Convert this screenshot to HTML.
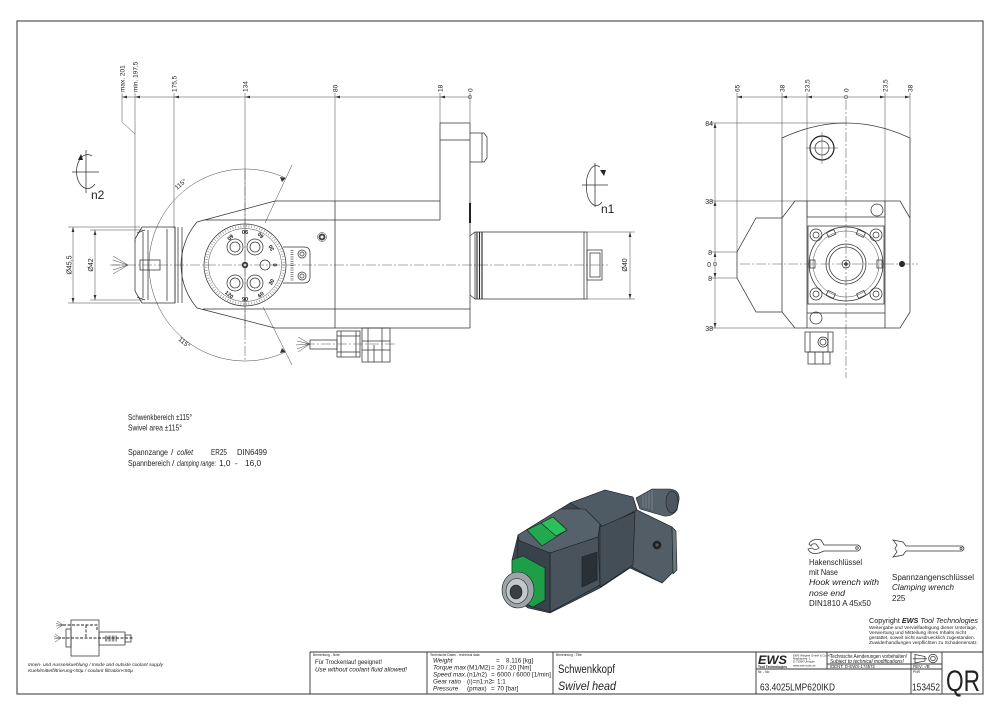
<!DOCTYPE html>
<html><head><meta charset="utf-8"><style>
html,body{margin:0;padding:0;background:#fff;}
svg{display:block;}
.l{stroke:#333;stroke-width:0.75;fill:none;}
.th{stroke:#222;stroke-width:1.3;fill:none;}
.c{stroke:#555;stroke-width:0.55;fill:none;stroke-dasharray:10 2 2 2;}
.d{stroke:#444;stroke-width:0.5;fill:none;}
text{font-family:"Liberation Sans",sans-serif;fill:#222;}
.i{font-style:italic;}
</style></head><body>
<svg width="1000" height="715" viewBox="0 0 1000 715" xmlns="http://www.w3.org/2000/svg">
<rect x="0" y="0" width="1000" height="715" fill="#fff"/>
<rect x="17" y="21" width="966" height="673" fill="none" stroke="#555" stroke-width="1.2"/>

<!-- ================= LEFT VIEW ================= -->
<path class="d" d="M122 97 H470"/>
<g fill="#333">
<polygon points="122,97 127,95.6 127,98.4"/>
<polygon points="135,97 140,95.6 140,98.4"/>
<polygon points="174,97 179,95.6 179,98.4"/>
<polygon points="245,97 250,95.6 250,98.4"/>
<polygon points="335,97 340,95.6 340,98.4"/>
<polygon points="440,97 445,95.6 445,98.4"/>
</g>
<circle cx="470" cy="97" r="1.8" fill="none" stroke="#333" stroke-width="0.5"/>
<path class="d" d="M122 93 V122 L135 134 M135 93 V243 M174 93 V228 M245 93 V330 M335 93 V201 M440 93 V123 M470 93 V123"/>
<g font-size="6.5">
<text transform="translate(124.5,92) rotate(-90)">max. 201</text>
<text transform="translate(137.5,92) rotate(-90)">min. 197,5</text>
<text transform="translate(176.5,92) rotate(-90)">175,5</text>
<text transform="translate(247.5,92) rotate(-90)">134</text>
<text transform="translate(337.5,92) rotate(-90)">80</text>
<text transform="translate(442.5,92) rotate(-90)">18</text>
<text transform="translate(472.5,92) rotate(-90)">0</text>
</g>

<path class="l" d="M440 123 H470 M440 140 H470 M440 123 V220 M470 123 V328"/>
<path class="l" d="M470 133 H484 L487 137 V158 L484 162 H470 M482 133 V162"/>
<path class="l" d="M275 201 H440 M197 222 L275 201 M203 220 H440"/>
<path class="l" d="M197 222 A66 66 0 0 0 197 308"/>
<path class="l" d="M197 308 L275 328 M203 309 H470 M275 328 H470 M335 201 V328"/>
<path stroke="#222" stroke-width="2" d="M470 203 V223"/>

<circle cx="245" cy="265" r="41" class="l"/>
<circle cx="245" cy="265" r="38.8" fill="none" stroke="#555" stroke-width="2.4" stroke-dasharray="0.4 2.3"/>
<circle cx="245" cy="265" r="36.5" class="d"/>
<g class="l">
<circle cx="235" cy="247" r="8"/><circle cx="235" cy="247" r="5"/>
<circle cx="255" cy="247" r="8"/><circle cx="255" cy="247" r="5"/>
<circle cx="235" cy="283" r="8"/><circle cx="235" cy="283" r="5"/>
<circle cx="255" cy="283" r="8"/><circle cx="255" cy="283" r="5"/>
<circle cx="265" cy="265" r="5"/>
</g>
<circle cx="245" cy="265" r="3.2" fill="#333"/>
<circle cx="245" cy="265" r="1.4" fill="#fff"/>
<g font-size="5.5" font-weight="bold" text-anchor="middle">
<text transform="translate(245,230) rotate(180)">90</text>
<text transform="translate(229,236) rotate(135)">60</text>
<text transform="translate(262,234) rotate(-135)">60</text>
<text transform="translate(273,247) rotate(-120)">30</text>
<text transform="translate(277,265) rotate(-90)">0</text>
<text transform="translate(273,283) rotate(-60)">30</text>
<text transform="translate(262,296) rotate(-40)">60</text>
<text transform="translate(245,301)">90</text>
<text transform="translate(228,296) rotate(40)">120</text>
</g>
<path class="l" d="M283 247 H304 Q310 247 310 253 V277 Q310 283 304 283 H283"/>
<path stroke="#333" stroke-width="3" stroke-dasharray="0.6 1.6" d="M292 250 V281"/>
<g class="l"><circle cx="302" cy="254" r="4"/><circle cx="302" cy="254" r="2"/><circle cx="302" cy="276" r="4"/><circle cx="302" cy="276" r="2"/></g>
<circle cx="322" cy="237" r="3.5" fill="#444"/><circle cx="322" cy="237" r="1.5" fill="#fff"/><circle cx="322" cy="237" r="4.5" class="d"/>

<path class="d" d="M149 265 A96 96 0 0 1 285.6 178 M149 265 A96 96 0 0 0 285.6 352"/>
<path class="d" d="M265 223 L292 165 M263 307 L292 365"/>
<polygon points="285.6,178 280,177 282,182" fill="#333"/>
<polygon points="285.6,352 280,353 282,348" fill="#333"/>
<text font-size="6.5" transform="translate(177,190) rotate(-40)">115°</text>
<text font-size="6.5" transform="translate(178,340) rotate(40)">115°</text>

<path class="l" d="M142 227 H175 V303 H142 L135 291 V239 Z"/>
<path class="l" d="M143 232 V298 M148 230 V300 M167 229 V301 M175 227 V303 M178 227 V303 M182 227 V303"/>
<rect x="140" y="260" width="20" height="10" class="l"/>
<path class="l" d="M137 233 L145 230 M137 297 L145 300"/>
<path class="d" d="M128 265 L113 256 M128 265 L113 260 M128 265 L112 265 M128 265 L113 270 M128 265 L113 274"/>
<path class="d" d="M68 227 H140 M68 303 H140 M73 227 V303 M90 230 H143 M90 300 H143 M95 230 V300"/>
<g fill="#333">
<polygon points="73,227 71.6,232 74.4,232"/><polygon points="73,303 71.6,298 74.4,298"/>
<polygon points="95,230 93.6,235 96.4,235"/><polygon points="95,300 93.6,295 96.4,295"/>
</g>
<text font-size="7" text-anchor="middle" transform="translate(71.5,265) rotate(-90)">Ø45,5</text>
<text font-size="7" text-anchor="middle" transform="translate(93,265) rotate(-90)">Ø42</text>

<path class="c" d="M110 265 H608"/>
<path class="c" d="M245 170 V360" />

<rect x="475" y="232" width="112" height="67" class="l"/>
<path class="l" d="M470 236 L475 232 M470 295 L475 299 M584 232 V299"/>
<path stroke="#222" stroke-width="1.1" d="M477 232 V299 M479.5 232 V299 M482 232 V299"/>
<rect x="587" y="250" width="15" height="30" class="l"/>
<rect x="590" y="253" width="10" height="24" class="l"/>
<path class="d" d="M587 232 H635 M587 299 H635 M630 232 V299"/>
<polygon points="630,232 628.6,237 631.4,237" fill="#333"/><polygon points="630,299 628.6,294 631.4,294" fill="#333"/>
<text font-size="7" text-anchor="middle" transform="translate(627,265) rotate(-90)">Ø40</text>

<path class="d" d="M310 344 L298 337 M310 344 L297 341 M310 344 L296 345 M310 344 L297 349 M310 344 L298 352"/>
<rect x="310" y="340" width="27" height="9" class="l"/>
<path class="l" d="M337 331 H360 V357 H337 Z M341 331 V357 M356 331 V357 M337 336 H360 M337 352 H360"/>
<path class="l" d="M362 328 H390 V362 H362 Z M368 328 V362 M382 328 V362 M362 341 H390 M362 350 H390 M374 345 V362"/>
<path class="c" d="M305 344 H395"/>

<path class="l" d="M92 156 A11 17 0 1 0 95 184"/>
<polygon points="78,160 81,154 83,160" fill="#222"/>
<path class="l" d="M72 172 H99 M86 150 V193"/>
<text x="91" y="199" font-size="12">n2</text>
<path class="l" d="M600 167 A10 20 0 1 0 602 202"/>
<polygon points="604,176 600,170 606,170" fill="#222"/>
<path class="l" d="M582 185 H608 M595 163 V207"/>
<text x="601" y="213" font-size="12">n1</text>

<!-- ================= RIGHT VIEW ================= -->
<path class="d" d="M737 97 H910"/>
<g fill="#333">
<polygon points="737,97 742,95.6 742,98.4"/><polygon points="782,97 787,95.6 787,98.4"/>
<polygon points="807,97 812,95.6 812,98.4"/><polygon points="885,97 880,95.6 880,98.4"/>
<polygon points="910,97 905,95.6 905,98.4"/>
</g>
<circle cx="846" cy="97" r="1.8" fill="none" stroke="#333" stroke-width="0.5"/>
<path class="d" d="M737 93 V252 M782 93 V138 M807 93 V217 M885 93 V217 M910 93 V138"/>
<g font-size="6.5">
<text transform="translate(739.5,92) rotate(-90)">65</text>
<text transform="translate(784.5,92) rotate(-90)">38</text>
<text transform="translate(809.5,92) rotate(-90)">23,5</text>
<text transform="translate(848.5,92) rotate(-90)">0</text>
<text transform="translate(887.5,92) rotate(-90)">23,5</text>
<text transform="translate(912.5,92) rotate(-90)">38</text>
</g>
<path class="d" d="M715 123 V328 M711 123 H846 M711 201 H795 M711 252 H737 M711 278 H737 M711 328 H795"/>
<g fill="#333">
<polygon points="715,123 713.6,128 716.4,128"/><polygon points="715,201 713.6,206 716.4,206"/>
<polygon points="715,252 713.6,257 716.4,257"/><polygon points="715,278 713.6,273 716.4,273"/>
<polygon points="715,328 713.6,323 716.4,323"/>
</g>
<circle cx="715" cy="264" r="1.8" fill="none" stroke="#333" stroke-width="0.5"/>
<g font-size="7" text-anchor="end">
<text x="713" y="126">84</text><text x="713" y="204">38</text><text x="712" y="255">8</text>
<text x="711" y="267">0</text><text x="712" y="281">8</text><text x="713" y="331">38</text>
</g>
<path class="l" d="M782 218 V138 Q846 108 910 138 V218"/>
<circle cx="822" cy="148" r="12" fill="none" stroke="#222" stroke-width="1.2"/>
<circle cx="822" cy="148" r="7" class="l"/>
<path class="d" d="M806 148 H838 M822 132 V164"/>
<path class="l" d="M795 201 H900 L910 218 V312 L900 328 H795 L782 312 V218 Z"/>
<path class="l" d="M782 218 H756 L737 252 V278 L756 312 H782"/>
<path class="l" d="M807 201 V328 M885 201 V328 M807 217 H885 M807 313 H885"/>
<rect x="808" y="226" width="76" height="78" class="l"/>
<circle cx="846" cy="264" r="37" class="l"/>
<circle cx="846" cy="264" r="33" class="d"/>
<g class="l">
<rect x="827" y="231" width="8" height="5" transform="rotate(-25 831 233)"/>
<rect x="857" y="231" width="8" height="5" transform="rotate(25 861 233)"/>
<rect x="827" y="292" width="8" height="5" transform="rotate(25 831 294)"/>
<rect x="857" y="292" width="8" height="5" transform="rotate(-25 861 294)"/>
<rect x="810" y="260" width="5" height="8"/>
<rect x="877" y="260" width="5" height="8"/>
</g>
<circle cx="846" cy="264" r="20" class="l"/><circle cx="846" cy="264" r="17" class="l"/>
<circle cx="846" cy="264" r="4" class="l"/><circle cx="846" cy="264" r="1.8" fill="#333"/>
<g class="l">
<circle cx="816" cy="235" r="6"/><circle cx="816" cy="235" r="3"/>
<circle cx="876" cy="235" r="6"/><circle cx="876" cy="235" r="3"/>
<circle cx="816" cy="294" r="6"/><circle cx="816" cy="294" r="3"/>
<circle cx="876" cy="294" r="6"/><circle cx="876" cy="294" r="3"/>
<circle cx="877" cy="210" r="6"/><circle cx="816" cy="318" r="6"/>
</g>
<circle cx="902" cy="264" r="3" fill="#222"/>
<path class="c" d="M846 100 V378 M740 264 H918"/>
<path class="l" d="M805 332 H833 V352 H805 Z M810 332 V352 M828 332 V352"/>
<circle cx="823" cy="342" r="5" class="l"/><circle cx="823" cy="342" r="3" class="l"/>
<path class="l" d="M808 352 H830 V364 H808 Z M815 352 V364 M823 352 V364"/>

<!-- ================= NOTES ================= -->
<text x="128" y="420" font-size="8.3" textLength="64" lengthAdjust="spacingAndGlyphs">Schwenkbereich ±115°</text>
<text x="128" y="430.5" font-size="8.3" textLength="54" lengthAdjust="spacingAndGlyphs">Swivel area ±115°</text>
<text x="128" y="455" font-size="8.3" textLength="40" lengthAdjust="spacingAndGlyphs">Spannzange</text>
<text x="171" y="455" font-size="8.3">/</text>
<text x="177" y="455" font-size="8.3" class="i" textLength="16" lengthAdjust="spacingAndGlyphs">collet</text>
<text x="211" y="455" font-size="8.3" textLength="16" lengthAdjust="spacingAndGlyphs">ER25</text>
<text x="237" y="455" font-size="8.3" textLength="30" lengthAdjust="spacingAndGlyphs">DIN6499</text>
<text x="128" y="466" font-size="8.3" textLength="42" lengthAdjust="spacingAndGlyphs">Spannbereich</text>
<text x="172" y="466" font-size="8.3">/</text>
<text x="177" y="466" font-size="8.3" class="i" textLength="39" lengthAdjust="spacingAndGlyphs">clamping range:</text>
<text x="219" y="466" font-size="8.3">1,0</text>
<text x="235" y="466" font-size="8.3">-</text>
<text x="245" y="466" font-size="8.3">16,0</text>

<!-- ================= 3D VIEW ================= -->
<g stroke="#1a1f22" stroke-width="0.6" stroke-linejoin="round">
<polygon points="518,535 570,503 605,490 633,497 637,510 672,527 673,572 662,583 630,568 600,588 550,613 528,608 512,596 512,560" fill="#3e4850"/>
<path d="M636 498 L652 489 H670 Q680 490 679 500 L677 510 Q672 517 664 516 L640 509 Z" fill="#56626a"/>
<ellipse cx="672" cy="502" rx="6" ry="11" fill="#4b565e"/>
<path d="M643 495 V507 M646 493.5 V508 M649 492 V509 M652 490.5 V510" stroke="#7d878d" stroke-width="0.8"/>
<polygon points="570,503 605,490 633,497 637,510 603,527 590,515" fill="#4f5b64"/>
<polygon points="637,510 672,527 673,572 662,583 632,567 633,512" fill="#525d65"/>
<polygon points="672,527 676,531 677,570 673,574" fill="#6a757c"/>
<circle cx="657" cy="545" r="4" fill="#222"/><circle cx="657" cy="545" r="2" fill="#555"/>
<polygon points="600,527 635,512 633,565 600,587" fill="#444e56"/>
<polygon points="518,535 560,509 585,509 600,524 598,537 550,553 520,545" fill="#56626b"/>
<polygon points="527,530 553,517 567,530 542,546" fill="#22a84f"/>
<polygon points="541,523 553,517 567,530 556,536" fill="#2cc05c"/>
<polygon points="550,553 598,537 600,585 550,612" fill="#48535b"/>
<polygon points="582,557 597,552 597,580 582,587" fill="#2a3136"/>
<polygon points="518,540 550,553 550,612 530,606 515,598" fill="#38424a"/>
<polygon points="512,560 523,556 545,568 545,600 533,607 512,597" fill="#1f9e48"/>
<ellipse cx="518" cy="590" rx="16" ry="18" fill="#9ea5aa"/>
<ellipse cx="517" cy="591" rx="11" ry="12.5" fill="#c3c8cb"/>
<ellipse cx="516" cy="592" rx="6" ry="7" fill="#3a3f43"/>
</g>

<!-- ================= WRENCHES ================= -->
<path class="l" d="M809 544 Q812 538 821 540 L824 545 H858 Q863 548 858 551 H824 L819 553 Q810 555 808 549 L812 548 Q815 551 819 548 L816 544 Q812 543 811 546 Z"/>
<circle cx="857" cy="548" r="1.3" class="l"/>
<path class="l" d="M893 540 L903 542 L906 546 H962 Q966 548.5 962 551 H906 L903 555 L893 557 L897 552 L895 548.5 L897 545 Z"/>
<circle cx="961" cy="548.5" r="1" class="l"/>
<g font-size="8">
<text x="809" y="565" textLength="53" lengthAdjust="spacingAndGlyphs">Hakenschlüssel</text>
<text x="809" y="575" textLength="29" lengthAdjust="spacingAndGlyphs">mit Nase</text>
<text x="809" y="585" class="i" textLength="70" lengthAdjust="spacingAndGlyphs">Hook wrench with</text>
<text x="809" y="596" class="i" textLength="36" lengthAdjust="spacingAndGlyphs">nose end</text>
<text x="809" y="606" textLength="62" lengthAdjust="spacingAndGlyphs">DIN1810 A 45x50</text>
<text x="892" y="580" textLength="82" lengthAdjust="spacingAndGlyphs">Spannzangenschlüssel</text>
<text x="892" y="590" class="i" textLength="62" lengthAdjust="spacingAndGlyphs">Clamping wrench</text>
<text x="892" y="601">225</text>
</g>
<text x="869" y="623" font-size="7" textLength="109" lengthAdjust="spacingAndGlyphs">Copyright <tspan font-weight="bold" font-style="italic">EWS</tspan><tspan font-style="italic"> Tool Technologies</tspan></text>
<g font-size="4.5">
<text x="869" y="629" textLength="108" lengthAdjust="spacingAndGlyphs">Weitergabe und Vervielfaeltigung dieser Unterlage,</text>
<text x="869" y="634" textLength="97" lengthAdjust="spacingAndGlyphs">Verwertung und Mitteilung ihres Inhalts nicht</text>
<text x="869" y="639" textLength="106" lengthAdjust="spacingAndGlyphs">gestattet, soweit nicht ausdruecklich zugestanden.</text>
<text x="869" y="644" textLength="109" lengthAdjust="spacingAndGlyphs">Zuwiderhandlungen verpflichten zu Schadenersatz.</text>
</g>

<!-- ================= COOLANT SCHEMATIC ================= -->
<rect x="71" y="620" width="28" height="36" class="l"/>
<rect x="66" y="629" width="5" height="18" class="l"/>
<rect x="99" y="632" width="26" height="13" class="l"/>
<path stroke="#333" stroke-width="6" stroke-dasharray="0.5 0.9" d="M105 638.5 H117"/>
<rect x="125" y="635" width="6" height="7" class="l"/>
<path stroke="#222" stroke-width="0.9" fill="none" stroke-dasharray="3 1.5" d="M63 625 H97 V631 M86 625 V638 M62 638 H133"/>
<path class="d" d="M63 625 L57 621 M63 625 L56 623.5 M63 625 L56 626 M63 625 L57 628.5 M61 638 L55 634 M61 638 L54 636.5 M61 638 L54 639 M61 638 L55 642"/>
<text x="28" y="666" font-size="4.4" class="i" textLength="135" lengthAdjust="spacingAndGlyphs">Innen- und Aussenkuehlung / Inside and outside coolant supply</text>
<text x="28" y="672" font-size="4.4" class="i" textLength="105" lengthAdjust="spacingAndGlyphs">Kuehlmittelfiltrierung&lt;50µ / coolant filtration&lt;50µ</text>

<!-- ================= TITLE BLOCK ================= -->
<g stroke="#333" stroke-width="0.9" fill="none">
<path d="M310 652 H983 M310 652 V694 M427 652 V694 M553 652 V694 M756 652 V694 M942 652 V694 M911 652 V694 M827 652 V669 M756 669 H942 M827 664 H942"/>
</g>
<g font-size="3.3" fill="#444">
<text x="313" y="656">Bemerkung - Note</text>
<text x="430" y="656">Technische Daten - technical data</text>
<text x="556" y="656">Benennung - Title</text>
<text x="758" y="673">Nr. - No</text>
<text x="913" y="673">PNR</text>
</g>
<text x="315" y="664" font-size="6.5" textLength="67" lengthAdjust="spacingAndGlyphs">Für Trockenlauf geeignet!</text>
<text x="315" y="671.5" font-size="6.5" class="i" textLength="92" lengthAdjust="spacingAndGlyphs">Use without coolant fluid allowed!</text>
<g font-size="6.3">
<text x="433" y="662.5" class="i">Weight</text><text x="496" y="662.5">=</text><text x="506" y="662.5">8.116 [kg]</text>
<text x="433" y="669.5" class="i">Torque max</text><text x="467" y="669.5">(M1/M2)</text><text x="491" y="669.5">=</text><text x="497" y="669.5">20 / 20 [Nm]</text>
<text x="433" y="676.5" class="i">Speed max.</text><text x="467" y="676.5">(n1/n2)</text><text x="491" y="676.5">=</text><text x="497" y="676.5">6000 / 6000 [1/min]</text>
<text x="433" y="683.5" class="i">Gear ratio</text><text x="467" y="683.5">(i)=n1:n2</text><text x="491" y="683.5">=</text><text x="497" y="683.5">1:1</text>
<text x="433" y="690.5" class="i">Pressure</text><text x="467" y="690.5">(pmax)</text><text x="491" y="690.5">=</text><text x="497" y="690.5">70 [bar]</text>
</g>
<text x="558" y="673" font-size="11.5" textLength="57" lengthAdjust="spacingAndGlyphs">Schwenkkopf</text>
<text x="558" y="690" font-size="11.5" class="i" textLength="58" lengthAdjust="spacingAndGlyphs">Swivel head</text>
<text x="758" y="664" font-size="12" font-weight="bold" font-style="italic" fill="#000" textLength="29" lengthAdjust="spacingAndGlyphs">EWS</text>
<text x="758" y="668" font-size="3.4" font-weight="bold" textLength="29" lengthAdjust="spacingAndGlyphs">Tool Technologies</text>
<g font-size="2.8" fill="#444">
<text x="793" y="656.5">EWS Weigele GmbH &amp; Co. KG</text>
<text x="793" y="659.5">Maybachstr. 1</text>
<text x="793" y="662.5">D-73066 Uhingen</text>
<text x="793" y="666.5">www.ews-tools.de</text>
</g>
<text x="830" y="658" font-size="5.2" textLength="77" lengthAdjust="spacingAndGlyphs">Technische Aenderungen vorbehalten!</text>
<text x="830" y="663" font-size="5.2" class="i" textLength="74" lengthAdjust="spacingAndGlyphs">Subject to technical modifications!</text>
<text x="830" y="668" font-size="4.3">IDENT:  D-EWS-174572</text>
<path class="l" d="M915 654.5 L925 656.5 V661 L915 663 Z M913 658.8 H927"/>
<circle cx="933" cy="658.5" r="4.3" class="l"/><circle cx="933" cy="658.5" r="2.3" class="l"/>
<text x="913" y="668" font-size="4.3">REV:  -/B</text>
<text x="760" y="690.5" font-size="10.5" textLength="75" lengthAdjust="spacingAndGlyphs">63.4025LMP620IKD</text>
<text x="912" y="690.5" font-size="10.5" textLength="28" lengthAdjust="spacingAndGlyphs">153452</text>
<text x="946" y="691" font-size="30" textLength="34" lengthAdjust="spacingAndGlyphs">QR</text>
</svg>
</body></html>
